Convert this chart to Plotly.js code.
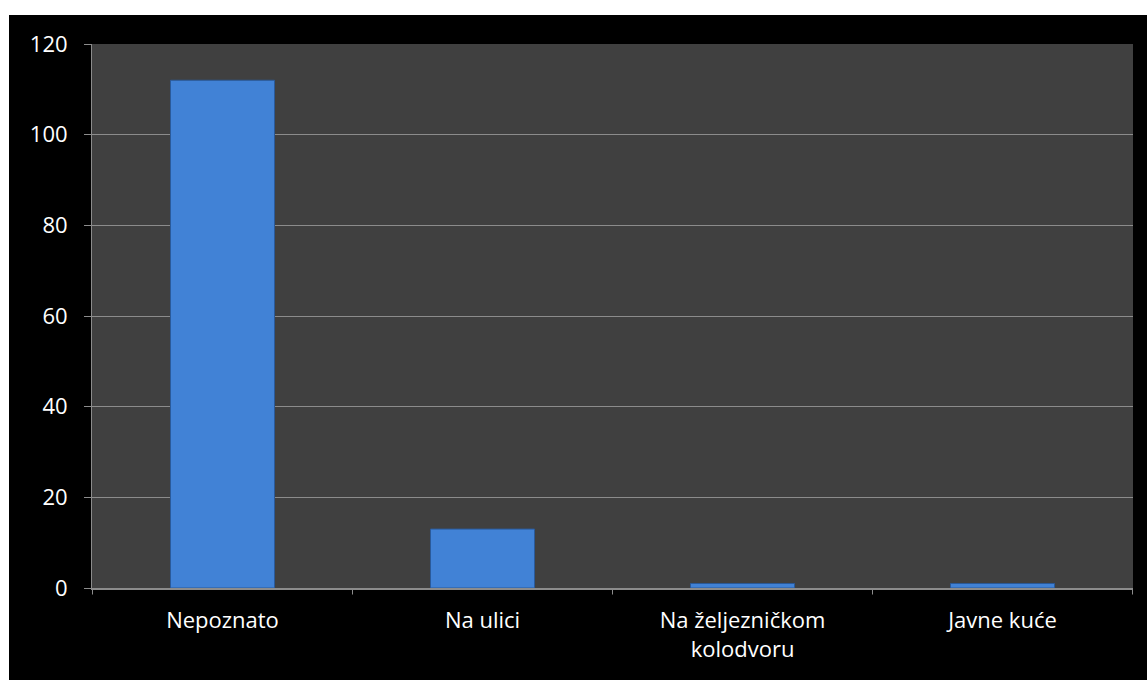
<!DOCTYPE html>
<html>
<head>
<meta charset="utf-8">
<script src="https://cdn.plot.ly/plotly-3.0.1.min.js"></script>
<style>
html,body{margin:0;padding:0;background:#ffffff;}
#chart{position:absolute;left:9px;top:15px;width:1138px;height:665px;}
</style>
</head>
<body>
<div id="chart"></div>
<script>
const categories = ["Nepoznato", "Na ulici", "Na željezničkom<br>kolodvoru", "Javne kuće"];
const values = [112, 13, 1, 1];
const yTicks = [0, 20, 40, 60, 80, 100, 120];

const trace = {
  type: "bar",
  x: categories,
  y: values,
  width: 0.4,
  marker: {
    color: "#4182d6",
    line: {color: "#2a5a9a", width: 1}
  },
  hoverinfo: "x+y"
};

const layout = {
  width: 1138,
  height: 665,
  paper_bgcolor: "#000000",
  plot_bgcolor: "#404040",
  margin: {l: 83, r: 14, t: 29, b: 92},
  font: {family: "Open Sans, Liberation Sans, sans-serif", color: "#ffffff", size: 22},
  showlegend: false,
  bargap: 0.6,
  xaxis: {
    showline: true,
    linecolor: "#8c8c8c",
    linewidth: 2,
    ticks: "",
    showgrid: false,
    tickfont: {size: 22, color: "#ffffff"},
    ticklabelstandoff: 12
  },
  yaxis: {
    range: [0, 120],
    tickvals: yTicks,
    ticktext: yTicks.map(String),
    showline: true,
    linecolor: "#8c8c8c",
    linewidth: 1,
    ticks: "outside",
    ticklen: 7,
    tickcolor: "#8c8c8c",
    showgrid: true,
    gridcolor: "#8c8c8c",
    gridwidth: 1,
    zeroline: false,
    tickfont: {size: 22, color: "#ffffff"},
    ticklabelstandoff: 12
  },
  shapes: [0, 1, 2, 3, 4].map(i => ({
    type: "line",
    xref: "x", yref: "paper",
    x0: i - 0.5, x1: i - 0.5,
    y0: 0, y1: -0.012,
    line: {color: "#8c8c8c", width: 1}
  }))
};

Plotly.newPlot("chart", [trace], layout, {displayModeBar: false, staticPlot: true});
</script>
</body>
</html>
